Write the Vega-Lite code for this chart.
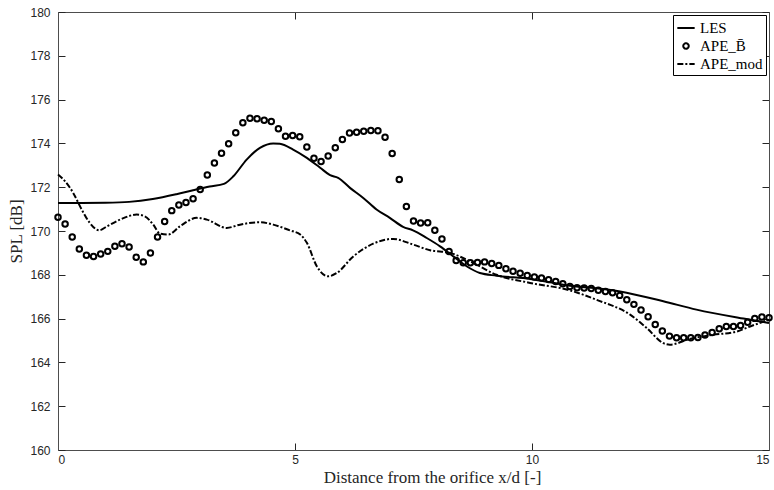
{
  "$schema": "https://vega.github.io/schema/vega-lite/v6.json",
  "width": 711,
  "height": 438,
  "autosize": "none",
  "padding": {"left": 58, "top": 12, "right": 5, "bottom": 40},
  "background": "white",
  "config": {
    "view": {"stroke": null},
    "axis": {
      "grid": false,
      "domainColor": "#4d4d4d",
      "domainWidth": 1,
      "tickColor": "#262626",
      "tickSize": -7,
      "tickWidth": 1,
      "labelFont": "Liberation Sans",
      "labelFontSize": 12,
      "labelColor": "#262626",
      "titleFont": "Liberation Serif",
      "titleFontSize": 17,
      "titleFontWeight": "normal",
      "titleColor": "#262626"
    }
  },
  "datasets": {
    "les": [
      {"x": 0, "y": 171.28}, {"x": 0.5, "y": 171.28}, {"x": 1.0, "y": 171.29}, {"x": 1.5, "y": 171.33},
      {"x": 2.0, "y": 171.46}, {"x": 2.5, "y": 171.68}, {"x": 2.85, "y": 171.86}, {"x": 3.2, "y": 172.03},
      {"x": 3.5, "y": 172.15}, {"x": 3.7, "y": 172.5}, {"x": 3.98, "y": 173.26}, {"x": 4.26, "y": 173.8},
      {"x": 4.54, "y": 174.0}, {"x": 4.68, "y": 173.98}, {"x": 4.96, "y": 173.72}, {"x": 5.25, "y": 173.34},
      {"x": 5.53, "y": 172.89}, {"x": 5.74, "y": 172.55}, {"x": 5.91, "y": 172.43}, {"x": 6.16, "y": 171.97},
      {"x": 6.44, "y": 171.51}, {"x": 6.72, "y": 170.98}, {"x": 7.0, "y": 170.6}, {"x": 7.28, "y": 170.19},
      {"x": 7.49, "y": 170.03}, {"x": 7.78, "y": 169.68}, {"x": 8.06, "y": 169.3}, {"x": 8.34, "y": 168.84},
      {"x": 8.62, "y": 168.39}, {"x": 8.9, "y": 168.08}, {"x": 9.25, "y": 167.96}, {"x": 9.96, "y": 167.81},
      {"x": 10.66, "y": 167.55}, {"x": 11.86, "y": 167.24}, {"x": 12.77, "y": 166.79}, {"x": 13.47, "y": 166.41},
      {"x": 14.46, "y": 166.0}, {"x": 15.0, "y": 165.8}
    ],
    "mod": [
      {"x": 0, "y": 172.58}, {"x": 0.15, "y": 172.27}, {"x": 0.32, "y": 171.74}, {"x": 0.5, "y": 170.98},
      {"x": 0.67, "y": 170.37}, {"x": 0.87, "y": 170.03}, {"x": 1.03, "y": 170.21}, {"x": 1.31, "y": 170.52},
      {"x": 1.66, "y": 170.75}, {"x": 1.83, "y": 170.67}, {"x": 2.01, "y": 170.29}, {"x": 2.15, "y": 169.88},
      {"x": 2.33, "y": 169.84}, {"x": 2.57, "y": 170.21}, {"x": 2.93, "y": 170.6}, {"x": 3.14, "y": 170.52},
      {"x": 3.56, "y": 170.14}, {"x": 3.84, "y": 170.29}, {"x": 4.26, "y": 170.4}, {"x": 4.54, "y": 170.29},
      {"x": 4.89, "y": 170.03}, {"x": 5.11, "y": 169.84}, {"x": 5.25, "y": 169.46}, {"x": 5.46, "y": 168.39},
      {"x": 5.7, "y": 167.93}, {"x": 5.88, "y": 168.08}, {"x": 6.23, "y": 168.84}, {"x": 6.65, "y": 169.42},
      {"x": 7.07, "y": 169.64}, {"x": 7.49, "y": 169.38}, {"x": 7.85, "y": 169.12}, {"x": 8.27, "y": 169.0},
      {"x": 8.69, "y": 168.62}, {"x": 9.25, "y": 168.0}, {"x": 9.96, "y": 167.63}, {"x": 10.8, "y": 167.29},
      {"x": 11.36, "y": 166.86}, {"x": 12.07, "y": 166.18}, {"x": 12.42, "y": 165.57}, {"x": 12.77, "y": 164.88},
      {"x": 12.91, "y": 164.81}, {"x": 13.33, "y": 165.07}, {"x": 13.82, "y": 165.26}, {"x": 14.32, "y": 165.41},
      {"x": 14.6, "y": 165.64}, {"x": 15.0, "y": 165.95}
    ],
    "apeb": [
      {"x": 0, "y": 170.63}, {"x": 0.15, "y": 170.32}, {"x": 0.3, "y": 169.73}, {"x": 0.45, "y": 169.18},
      {"x": 0.6, "y": 168.89}, {"x": 0.75, "y": 168.84}, {"x": 0.9, "y": 168.95}, {"x": 1.05, "y": 169.07},
      {"x": 1.2, "y": 169.3}, {"x": 1.35, "y": 169.42}, {"x": 1.5, "y": 169.27}, {"x": 1.65, "y": 168.8},
      {"x": 1.8, "y": 168.59}, {"x": 1.95, "y": 169.0}, {"x": 2.1, "y": 169.73}, {"x": 2.25, "y": 170.43},
      {"x": 2.4, "y": 170.93}, {"x": 2.55, "y": 171.19}, {"x": 2.7, "y": 171.3}, {"x": 2.85, "y": 171.47},
      {"x": 3.0, "y": 171.89}, {"x": 3.15, "y": 172.56}, {"x": 3.3, "y": 173.1}, {"x": 3.45, "y": 173.55},
      {"x": 3.6, "y": 173.98}, {"x": 3.75, "y": 174.49}, {"x": 3.9, "y": 174.94}, {"x": 4.05, "y": 175.15},
      {"x": 4.2, "y": 175.13}, {"x": 4.35, "y": 175.06}, {"x": 4.5, "y": 175.0}, {"x": 4.65, "y": 174.67},
      {"x": 4.8, "y": 174.33}, {"x": 4.95, "y": 174.36}, {"x": 5.1, "y": 174.3}, {"x": 5.25, "y": 173.84},
      {"x": 5.4, "y": 173.32}, {"x": 5.55, "y": 173.17}, {"x": 5.7, "y": 173.42}, {"x": 5.85, "y": 173.8},
      {"x": 6.0, "y": 174.18}, {"x": 6.15, "y": 174.47}, {"x": 6.3, "y": 174.51}, {"x": 6.45, "y": 174.55},
      {"x": 6.6, "y": 174.59}, {"x": 6.75, "y": 174.58}, {"x": 6.9, "y": 174.28}, {"x": 7.05, "y": 173.54},
      {"x": 7.2, "y": 172.35}, {"x": 7.35, "y": 171.12}, {"x": 7.5, "y": 170.46}, {"x": 7.65, "y": 170.37},
      {"x": 7.8, "y": 170.38}, {"x": 7.95, "y": 170.03}, {"x": 8.1, "y": 169.63}, {"x": 8.25, "y": 169.06},
      {"x": 8.4, "y": 168.65}, {"x": 8.55, "y": 168.55}, {"x": 8.7, "y": 168.55}, {"x": 8.85, "y": 168.56},
      {"x": 9.0, "y": 168.59}, {"x": 9.15, "y": 168.52}, {"x": 9.3, "y": 168.43}, {"x": 9.45, "y": 168.28},
      {"x": 9.6, "y": 168.16}, {"x": 9.75, "y": 168.07}, {"x": 9.9, "y": 167.97}, {"x": 10.05, "y": 167.9},
      {"x": 10.2, "y": 167.85}, {"x": 10.35, "y": 167.78}, {"x": 10.5, "y": 167.69}, {"x": 10.65, "y": 167.59},
      {"x": 10.8, "y": 167.47}, {"x": 10.95, "y": 167.41}, {"x": 11.1, "y": 167.4}, {"x": 11.25, "y": 167.37},
      {"x": 11.4, "y": 167.29}, {"x": 11.55, "y": 167.24}, {"x": 11.7, "y": 167.18}, {"x": 11.85, "y": 167.06},
      {"x": 12.0, "y": 166.86}, {"x": 12.15, "y": 166.65}, {"x": 12.3, "y": 166.39}, {"x": 12.45, "y": 166.08},
      {"x": 12.6, "y": 165.73}, {"x": 12.75, "y": 165.43}, {"x": 12.9, "y": 165.2}, {"x": 13.05, "y": 165.13},
      {"x": 13.2, "y": 165.13}, {"x": 13.35, "y": 165.13}, {"x": 13.5, "y": 165.14}, {"x": 13.65, "y": 165.25},
      {"x": 13.8, "y": 165.37}, {"x": 13.95, "y": 165.54}, {"x": 14.1, "y": 165.64}, {"x": 14.25, "y": 165.64},
      {"x": 14.4, "y": 165.69}, {"x": 14.55, "y": 165.83}, {"x": 14.7, "y": 166.01}, {"x": 14.85, "y": 166.07},
      {"x": 15.0, "y": 166.04}
    ]
  },
  "layer": [
    {
      "data": {"name": "les"},
      "transform": [{"calculate": "'LES'", "as": "series"}],
      "mark": {"type": "line", "strokeWidth": 2, "interpolate": "monotone"},
      "encoding": {
        "x": {"field": "x", "type": "quantitative", "scale": {"domain": [0, 15], "nice": false},
              "axis": {"values": [0, 5, 10, 15], "title": "Distance from the orifice x/d [-]", "labelPadding": 11, "titlePadding": 4, "titleX": 374}},
        "y": {"field": "y", "type": "quantitative", "scale": {"domain": [160, 180], "nice": false, "zero": false},
              "axis": {"values": [160, 162, 164, 166, 168, 170, 172, 174, 176, 178, 180], "title": "SPL [dB]", "labelPadding": 15, "titlePadding": 4}},
        "color": {
          "field": "series", "type": "nominal",
          "scale": {"domain": ["LES", "APEB", "APEmod"], "range": ["black", "black", "black"]},
          "legend": {
            "title": null,
            "orient": "top-right",
            "offset": 3,
            "strokeColor": "black",
            "fillColor": "white",
            "padding": 3,
            "labelFont": "Liberation Serif",
            "labelFontSize": 15,
            "labelColor": "black",
            "labelOffset": 4,
            "rowPadding": 0,
            "symbolSize": 300,
            "symbolStrokeWidth": 2,
            "labelExpr": "datum.value == 'APEB' ? 'APE_B̄' : datum.value == 'APEmod' ? 'APE_mod' : datum.value",
            "encode": {
              "symbols": {
                "update": {
                  "shape": {"signal": "datum.value == 'APEB' ? 'circle' : 'stroke'"},
                  "size": {"signal": "datum.value == 'APEB' ? 30 : 300"},
                  "strokeDash": {"signal": "datum.value == 'APEmod' ? [6, 2, 2, 2] : [1, 0]"},
                  "stroke": {"value": "black"},
                  "strokeWidth": {"value": 2},
                  "fill": {"value": "transparent"}
                }
              }
            }
          }
        }
      }
    },
    {
      "data": {"name": "mod"},
      "transform": [{"calculate": "'APEmod'", "as": "series"}],
      "mark": {"type": "line", "strokeWidth": 2, "strokeDash": [6, 2, 2, 2], "interpolate": "monotone"},
      "encoding": {
        "x": {"field": "x", "type": "quantitative", "axis": null},
        "y": {"field": "y", "type": "quantitative", "axis": null},
        "color": {"field": "series", "type": "nominal"}
      }
    },
    {
      "data": {"name": "apeb"},
      "transform": [{"calculate": "'APEB'", "as": "series"}],
      "mark": {"type": "point", "shape": "circle", "filled": false, "size": 30, "strokeWidth": 2, "opacity": 1},
      "encoding": {
        "x": {"field": "x", "type": "quantitative",
              "axis": {"orient": "top", "values": [0, 5, 10, 15], "labels": false, "title": null}},
        "y": {"field": "y", "type": "quantitative",
              "axis": {"orient": "right", "values": [160, 162, 164, 166, 168, 170, 172, 174, 176, 178, 180], "labels": false, "title": null}},
        "color": {"field": "series", "type": "nominal"}
      }
    }
  ],
  "resolve": {"axis": {"x": "independent", "y": "independent"}}
}
